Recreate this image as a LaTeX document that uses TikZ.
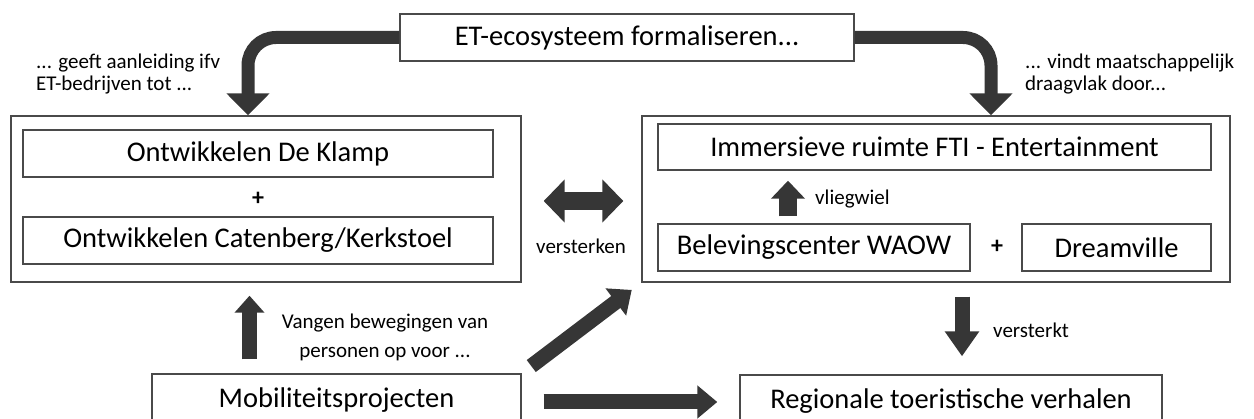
\documentclass[tikz,border=0pt]{standalone}
\usepackage{fontspec}
\setmainfont{Carlito}
\usetikzlibrary{arrows.meta}
\definecolor{darkarrow}{HTML}{363636}
\definecolor{bordgray}{HTML}{4A4A4A}
\begin{document}
\begin{tikzpicture}[x=1pt,y=-1pt,
  box/.style={draw=bordgray,line width=1.4pt,inner sep=0pt,fill=white,font=\fontsize{28.5}{30}\selectfont},
  lbl/.style={inner sep=0pt,font=\fontsize{21}{22}\selectfont},
  plus/.style={inner sep=0pt,font=\fontsize{24}{24}\selectfont\bfseries},
  fat/.style={draw=darkarrow,line width=#1}]
\useasboundingbox (0,0) rectangle (1254,419);
% boxes
\node[box,minimum width=454pt,minimum height=47pt] (top) at (627,37.5) {ET-ecosysteem formaliseren...};
\node[box,minimum width=510pt,minimum height=166pt] (L) at (266,199) {};
\node[box,minimum width=470pt,minimum height=47pt] (klamp) at (258,153.5) {Ontwikkelen De Klamp};
\node[box,minimum width=470pt,minimum height=47pt] (caten) at (258,240.5) {Ontwikkelen Catenberg/Kerkstoel};
\node[plus] (plusL) at (258,199) {+};
\node[box,minimum width=588pt,minimum height=166pt] (R) at (936,199) {};
\node[box,minimum width=553pt,minimum height=46pt] (imm) at (934.5,147) {Immersieve ruimte FTI - Entertainment};
\node[box,minimum width=312pt,minimum height=47pt] (bel) at (814,247.5) {Belevingscenter WAOW};
\node[box,minimum width=189pt,minimum height=47pt] (dream) at (1116.5,247.5) {Dreamville};
\node[plus] (plusR) at (997,247) {+};
\node[box,minimum width=369pt,minimum height=52pt] (mob) at (336.5,400) {Mobiliteitsprojecten};
\node[box,minimum width=422pt,minimum height=52pt] (reg) at (951,401) {Regionale toeristische verhalen};
% labels
\node[lbl,align=left,anchor=west] (t1) at (36,74) {... geeft aanleiding ifv\\ET-bedrijven tot ...};
\node[lbl,align=left,anchor=west] (t2) at (1025,74) {... vindt maatschappelijk\\draagvlak door...};
\node[lbl] (t3) at (581,246) {versterken};
\node[lbl,anchor=west] (t4) at (815,199) {vliegwiel};
\node[lbl,align=center,font=\fontsize{21}{29}\selectfont] (t5) at (385,337.5) {Vangen bewegingen van\\personen op voor ...};
\node[lbl,anchor=west] (t6) at (993,330) {versterkt};
% arrows
\draw[fat=13pt,rounded corners=28pt,-{Triangle[length=22pt,width=42pt]}] (top.west) -| ([xshift=-18pt]L.north);
\draw[fat=13pt,rounded corners=28pt,-{Triangle[length=22pt,width=42pt]}] (top.east) -| ([xshift=55pt]R.north);
\draw[fat=18pt,{Triangle[length=21pt,width=42pt]}-{Triangle[length=21pt,width=42pt]},shorten <=22pt,shorten >=18pt] ([yshift=-2pt]L.east) -- ([yshift=-2pt]R.west);
\draw[fat=18pt,-{Triangle[length=18pt,width=33pt]},shorten <=7pt,shorten >=10pt] ([xshift=-26pt]bel.north) -- ([xshift=-26pt]bel.north |- imm.south);
\draw[fat=15pt,-{Triangle[length=17pt,width=29pt]},shorten <=14pt,shorten >=13pt] ([xshift=-87pt]mob.north) -- ([xshift=-87pt]mob.north |- L.south);
\draw[fat=15pt,-{Triangle[length=25pt,width=33pt]},shorten <=14pt,shorten >=18pt] ([xshift=26pt]R.south) -- ([xshift=26pt]R.south |- reg.north);
\draw[fat=15pt,-{Triangle[length=20pt,width=33pt]},shorten <=12pt,shorten >=12pt] (mob.north east) -- (R.south west);
\draw[fat=15pt,-{Triangle[length=20pt,width=32pt]},shorten <=22pt,shorten >=22pt] ([yshift=-2pt]mob.east) -- ([yshift=-2pt]mob.east -| reg.west);
\end{tikzpicture}
\end{document}
